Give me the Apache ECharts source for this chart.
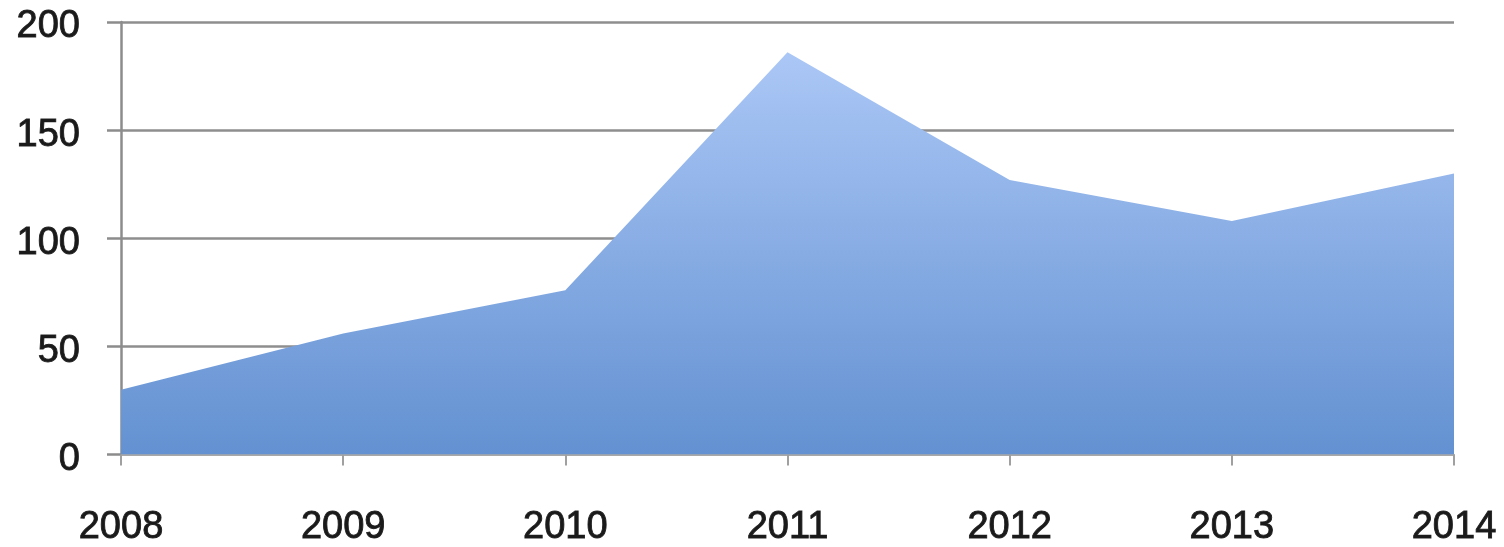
<!DOCTYPE html>
<html>
<head>
<meta charset="utf-8">
<script src="https://cdn.jsdelivr.net/npm/echarts@6/dist/echarts.min.js"></script>
<style>
html,body{margin:0;padding:0;background:#fff;}
#chart{width:1504px;height:547px;}
</style>
</head>
<body>
<div id="chart"></div>
<script>
var years = ['2008','2009','2010','2011','2012','2013','2014'];
var values = [30, 56, 76, 186, 127, 108, 130];
var yTicks = [0, 50, 100, 150, 200];

var labelFont = {
  fontFamily: 'Liberation Sans',
  fontSize: 38,
  color: '#1a1a1a',
  textBorderColor: '#2a2a2a',
  textBorderWidth: 0.9
};

var chart = echarts.init(document.getElementById('chart'));
chart.setOption({
  animation: false,
  backgroundColor: '#ffffff',
  grid: { left: 121, right: 50, top: 22, bottom: 89 },
  xAxis: {
    type: 'category',
    data: years,
    boundaryGap: false,
    axisLine: { show: true, lineStyle: { color: '#a8a8a8', width: 2 } },
    axisTick: { show: true, length: 11, lineStyle: { color: '#a0a0a0', width: 2 } },
    axisLabel: Object.assign({ margin: 54 }, labelFont),
    splitLine: { show: false }
  },
  yAxis: {
    type: 'value',
    min: yTicks[0],
    max: yTicks[yTicks.length - 1],
    interval: 50,
    axisLine: { show: true, lineStyle: { color: '#8c8c8c', width: 2.5 } },
    axisTick: { show: true, length: 14, lineStyle: { color: '#8c8c8c', width: 2.5 } },
    axisLabel: {
      margin: 41,
      formatter: '{a|{value}}',
      rich: { a: Object.assign({ padding: [10, 0, 0, 0] }, labelFont) }
    },
    splitLine: { show: true, lineStyle: { color: '#8e8e8e', width: 2.5 } }
  },
  series: [{
    type: 'line',
    data: values,
    symbol: 'none',
    lineStyle: { width: 0 },
    areaStyle: {
      opacity: 1,
      color: new echarts.graphic.LinearGradient(0, 0, 0, 1, [
        { offset: 0, color: '#abc7f6' },
        { offset: 1, color: '#6391d1' }
      ])
    }
  }]
});
</script>
</body>
</html>
